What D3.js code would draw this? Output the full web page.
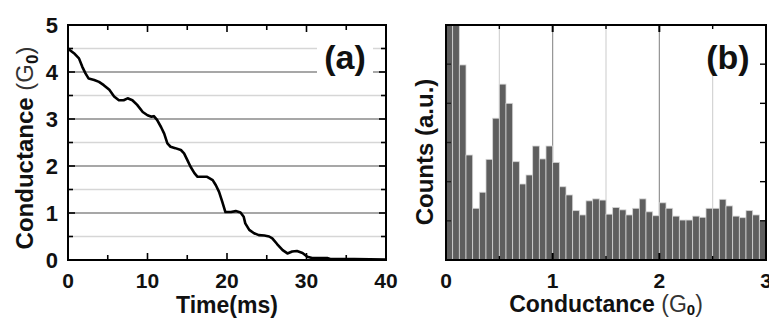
<!DOCTYPE html>
<html lang="en">
<head>
<meta charset="UTF-8">
<title>Conductance trace and histogram</title>
<script src="https://cdnjs.cloudflare.com/ajax/libs/d3/7.8.5/d3.min.js"></script>
<style>
  body { margin: 0; background: #fff; }
  svg text { font-family: "Liberation Sans", Arial, sans-serif; font-weight: bold; fill: #111; }
</style>
</head>
<body>
<script>
// (a) conductance trace
var timeMs = [0, 0.13, 0.75, 1.38, 1.8, 2.2, 2.6, 3.3, 3.9, 4.5, 5.2, 5.8, 6.4, 7.0, 7.5, 8.1, 8.7, 9.4, 10.0,
  10.5, 10.8, 11.2, 11.7, 12.1, 12.5, 12.9, 13.5, 14.2, 14.6, 15.0, 15.4, 15.9, 16.3, 16.7, 17.5, 18.2,
  18.6, 19.0, 19.4, 19.8, 20.5, 21.1, 21.7, 22.1, 22.3, 22.8, 23.4, 24.0, 24.7, 25.3, 25.7, 26.3, 27.0,
  27.6, 28.2, 28.8, 29.5, 30.1, 30.7, 32.6, 33.0, 36.0, 40.0];
var conductance = [4.5, 4.48, 4.40, 4.29, 4.11, 3.97, 3.86, 3.83, 3.79, 3.72, 3.62, 3.48, 3.40, 3.40, 3.44, 3.40, 3.30, 3.15, 3.08,
  3.05, 3.06, 2.98, 2.83, 2.69, 2.48, 2.41, 2.38, 2.34, 2.27, 2.13, 1.99, 1.85, 1.77, 1.77, 1.77, 1.70,
  1.59, 1.45, 1.24, 1.02, 1.02, 1.04, 1.01, 0.92, 0.78, 0.64, 0.57, 0.53, 0.52, 0.50, 0.46, 0.34, 0.21,
  0.14, 0.18, 0.19, 0.15, 0.07, 0.04, 0.04, 0.02, 0.02, 0.01];

// (b) histogram, 48 bins from 0 to 3 G0
var binWidth = 0.0625;
var counts = [6.0, 6.0, 4.98, 2.68, 1.32, 1.73, 2.57, 3.62, 4.49, 4.0, 2.51, 1.94, 2.17, 2.91, 2.58, 2.91,
  2.49, 1.87, 1.66, 1.26, 1.15, 1.51, 1.56, 1.53, 1.17, 1.34, 1.28, 1.15, 1.32, 1.56, 1.23, 1.13,
  1.46, 1.32, 1.12, 1.02, 1.02, 1.12, 1.09, 1.32, 1.32, 1.55, 1.38, 1.12, 1.08, 1.26, 1.15, 1.00];

var timeTicks = [0, 10, 20, 30, 40];
var gTicks = [0, 1, 2, 3, 4, 5];
var histTicks = [0, 1, 2, 3];

var svg = d3.select("body").append("svg")
  .attr("width", 769).attr("height", 321);

// ---------- panel (a) ----------
var xL = d3.scaleLinear().domain([0, 40]).range([68, 386]);
var yL = d3.scaleLinear().domain([0, 5]).range([260, 25]);

var a = svg.append("g");

a.selectAll("line.grid")
  .data(d3.range(0.5, 5, 0.5))
  .enter().append("line")
  .attr("class", "grid")
  .attr("x1", xL(0)).attr("x2", xL(40))
  .attr("y1", function(d) { return yL(d); })
  .attr("y2", function(d) { return yL(d); })
  .style("stroke", function(d) { return d % 1 === 0 ? "#8a8a8a" : "#d6d6d6"; })
  .style("stroke-width", 1.3);

// white box behind label
a.append("rect").attr("x", 317).attr("y", 33).attr("width", 56).attr("height", 48).style("fill", "#fff");
a.append("text").attr("x", 345).attr("y", 69).attr("text-anchor", "middle")
  .style("font-size", "34px").text("(a)");

var line = d3.line()
  .x(function(d, i) { return xL(timeMs[i]); })
  .y(function(d) { return yL(d); });

a.append("path")
  .datum(conductance)
  .attr("d", line)
  .style("fill", "none")
  .style("stroke", "#000")
  .style("stroke-width", 2.6)
  .style("stroke-linejoin", "round");

// ticks, all pointing inwards
var tMinor = d3.range(5, 40, 5);
a.selectAll("line.tb").data(tMinor).enter().append("line")
  .attr("x1", function(d) { return xL(d); }).attr("x2", function(d) { return xL(d); })
  .attr("y1", yL(0)).attr("y2", function(d) { return yL(0) - (d % 10 === 0 ? 7 : 5); })
  .style("stroke", "#000").style("stroke-width", 1.6);
a.selectAll("line.tt").data(tMinor).enter().append("line")
  .attr("x1", function(d) { return xL(d); }).attr("x2", function(d) { return xL(d); })
  .attr("y1", yL(5)).attr("y2", function(d) { return yL(5) + (d % 10 === 0 ? 7 : 5); })
  .style("stroke", "#000").style("stroke-width", 1.6);
var gMinor = d3.range(0.5, 5, 0.5);
a.selectAll("line.tl").data(gMinor).enter().append("line")
  .attr("x1", xL(0)).attr("x2", function(d) { return xL(0) + (d % 1 === 0 ? 7 : 5); })
  .attr("y1", function(d) { return yL(d); }).attr("y2", function(d) { return yL(d); })
  .style("stroke", "#000").style("stroke-width", 1.6);
a.selectAll("line.tr").data(gMinor).enter().append("line")
  .attr("x1", xL(40)).attr("x2", function(d) { return xL(40) - (d % 1 === 0 ? 7 : 5); })
  .attr("y1", function(d) { return yL(d); }).attr("y2", function(d) { return yL(d); })
  .style("stroke", "#000").style("stroke-width", 1.6);

a.append("rect")
  .attr("x", xL(0)).attr("y", yL(5))
  .attr("width", xL(40) - xL(0)).attr("height", yL(0) - yL(5))
  .style("fill", "none").style("stroke", "#000").style("stroke-width", 2);

a.selectAll("text.xl").data(timeTicks).enter().append("text")
  .attr("x", function(d) { return xL(d); }).attr("y", 288)
  .attr("text-anchor", "middle").style("font-size", "21px")
  .text(function(d) { return d; });
a.selectAll("text.yl").data(gTicks).enter().append("text")
  .attr("x", 58).attr("y", function(d) { return yL(d); }).attr("dy", "0.36em")
  .attr("text-anchor", "end").style("font-size", "22px")
  .text(function(d) { return d; });

a.append("text").attr("x", xL(20)).attr("y", 313).attr("text-anchor", "middle")
  .style("font-size", "23px").text("Time(ms)");

var yt = a.append("text").attr("transform", "translate(33,148) rotate(-90)")
  .attr("text-anchor", "middle").style("font-size", "24px");
yt.append("tspan").text("Conductance ");
yt.append("tspan").style("font-weight", "normal").style("fill", "#333").text("(G");
yt.append("tspan").attr("dy", 5).style("font-size", "17px").text("0");
yt.append("tspan").attr("dy", -5).style("font-weight", "normal").style("fill", "#333").text(")");

// ---------- panel (b) ----------
var xR = d3.scaleLinear().domain([0, 3]).range([446, 766]);
var yR = d3.scaleLinear().domain([0, 6]).range([260, 25]);

var b = svg.append("g");

b.selectAll("line.vgrid")
  .data(d3.range(0.5, 3, 0.5))
  .enter().append("line")
  .attr("x1", function(d) { return xR(d); }).attr("x2", function(d) { return xR(d); })
  .attr("y1", yR(0)).attr("y2", yR(6))
  .style("stroke", function(d) { return d % 1 === 0 ? "#8a8a8a" : "#d0d0d0"; })
  .style("stroke-width", 1.1);

b.append("rect").attr("x", 702).attr("y", 27).attr("width", 52).attr("height", 48).style("fill", "#fff");
b.append("text").attr("x", 728).attr("y", 69).attr("text-anchor", "middle")
  .style("font-size", "34px").text("(b)");

b.selectAll("rect.bar")
  .data(counts)
  .enter().append("rect")
  .attr("class", "bar")
  .attr("x", function(d, i) { return xR(i * binWidth); })
  .attr("width", xR(binWidth) - xR(0))
  .attr("y", function(d) { return yR(d); })
  .attr("height", function(d) { return yR(0) - yR(d); })
  .style("fill", "#5e5e5e")
  .style("stroke", "#d4d4d4")
  .style("stroke-width", 0.8);

var hMinor = d3.range(0.5, 3, 0.5);
b.selectAll("line.tb").data(hMinor).enter().append("line")
  .attr("x1", function(d) { return xR(d); }).attr("x2", function(d) { return xR(d); })
  .attr("y1", yR(0)).attr("y2", function(d) { return yR(0) - (d % 1 === 0 ? 7 : 4); })
  .style("stroke", "#000").style("stroke-width", function(d) { return d % 1 === 0 ? 2 : 1.4; });
b.selectAll("line.tt").data(d3.range(0, 3.01, 0.5)).enter().append("line")
  .attr("x1", function(d) { return xR(d); }).attr("x2", function(d) { return xR(d); })
  .attr("y1", yR(6)).attr("y2", function(d) { return yR(6) + (d % 1 === 0 ? 7 : 4); })
  .style("stroke", "#000").style("stroke-width", function(d) { return d % 1 === 0 ? 2 : 1.4; });
var cTicks = d3.range(1, 6, 1);
b.selectAll("line.tl").data(cTicks).enter().append("line")
  .attr("x1", xR(0)).attr("x2", xR(0) + 5)
  .attr("y1", function(d) { return yR(d); }).attr("y2", function(d) { return yR(d); })
  .style("stroke", "#222").style("stroke-width", 1.4);
b.selectAll("line.tr").data(cTicks).enter().append("line")
  .attr("x1", xR(3)).attr("x2", xR(3) - 6)
  .attr("y1", function(d) { return yR(d); }).attr("y2", function(d) { return yR(d); })
  .style("stroke", "#000").style("stroke-width", 1.4);

b.append("rect")
  .attr("x", xR(0)).attr("y", yR(6))
  .attr("width", xR(3) - xR(0)).attr("height", yR(0) - yR(6))
  .style("fill", "none").style("stroke", "#000").style("stroke-width", 2);

b.selectAll("text.xl").data(histTicks).enter().append("text")
  .attr("x", function(d) { return xR(d); }).attr("y", 288)
  .attr("text-anchor", "middle").style("font-size", "21px")
  .text(function(d) { return d; });

var xt = b.append("text").attr("x", xR(1.5)).attr("y", 312).attr("text-anchor", "middle")
  .style("font-size", "23px");
xt.append("tspan").text("Conductance ");
xt.append("tspan").style("font-weight", "normal").style("fill", "#333").text("(G");
xt.append("tspan").attr("dy", 3).style("font-size", "15px").text("0");
xt.append("tspan").attr("dy", -3).style("font-weight", "normal").style("fill", "#333").text(")");

b.append("text").attr("transform", "translate(433,152) rotate(-90)")
  .attr("text-anchor", "middle").style("font-size", "24px").text("Counts (a.u.)");
</script>
</body>
</html>
